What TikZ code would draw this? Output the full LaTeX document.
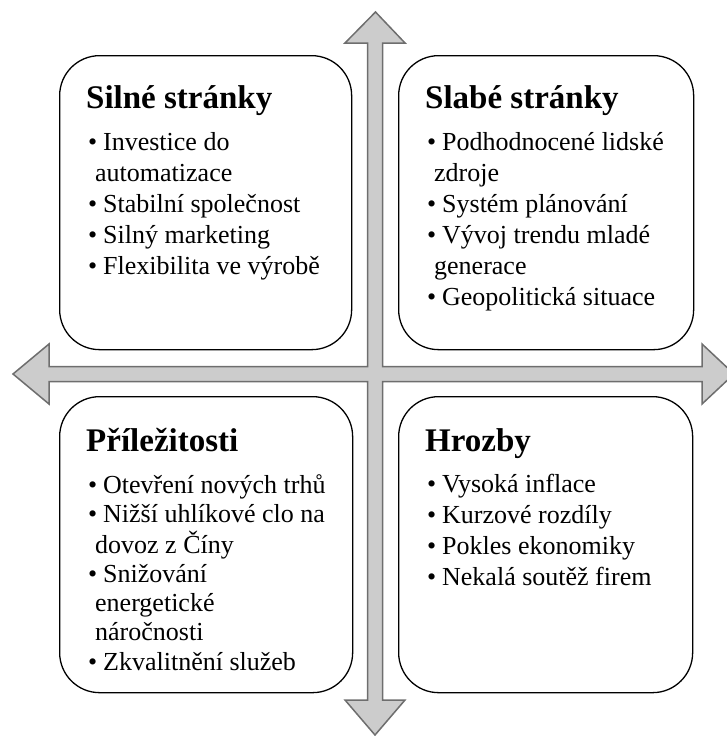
\documentclass[tikz,border=0pt]{standalone}
\usepackage{fontspec}
\setmainfont{Liberation Serif}
\newcommand{\itm}[1]{\makebox[15pt][l]{•}#1}
\newcommand{\cnt}[1]{\hspace*{7pt}#1}
\begin{document}
\begin{tikzpicture}[x=1pt,y=-1pt,
  quad/.style={draw=black, line width=1.3pt, rounded corners=40pt, fill=white, anchor=north west, inner sep=0pt},
  ttl/.style={anchor=base west, inner sep=0pt, font=\fontsize{33}{36}\selectfont\bfseries},
  lst/.style={anchor=base west, inner sep=0pt, align=left}]
\useasboundingbox (0,0) rectangle (726,736);
% cross arrows
\filldraw[fill=black!20, draw=black!57, line width=1.5pt, line join=miter]
  (375.5,12) -- (405,43) -- (382.5,43) -- (382.5,366.5) -- (702,366.5) -- (702,344)
  -- (734,374) -- (702,404) -- (702,381.5) -- (382.5,381.5) -- (382.5,700) -- (405,700)
  -- (375,735) -- (345,700) -- (367.5,700) -- (367.5,381.5) -- (49,381.5) -- (49,404)
  -- (13,374) -- (49,344) -- (49,366.5) -- (367.5,366.5) -- (367.5,43) -- (345,43) -- cycle;
% boxes
\node[quad, minimum width=292pt, minimum height=294pt] (s) at (59,55) {};
\node[quad, minimum width=295pt, minimum height=294pt] (w) at (398,55) {};
\node[quad, minimum width=293pt, minimum height=296pt] (o) at (59,396) {};
\node[quad, minimum width=294pt, minimum height=296pt] (t) at (398,396) {};
% titles
\node[ttl] (st) at (86,108) {Silné stránky};
\node[ttl] (wt) at (425,108) {Slabé stránky};
\node[ttl] (ot) at (86,451) {Příležitosti};
\node[ttl] (tt) at (425,451) {Hrozby};
% lists
\node[lst] (sl) at (88,150) {\fontsize{26}{31}\selectfont
  \begin{tabular}[t]{@{}l@{}}
  \itm{Investice do}\\
  \cnt{automatizace}\\
  \itm{Stabilní společnost}\\
  \itm{Silný marketing}\\
  \itm{Flexibilita ve výrobě}
  \end{tabular}};
\node[lst] (wl) at (427,150) {\fontsize{26}{31}\selectfont
  \begin{tabular}[t]{@{}l@{}}
  \itm{Podhodnocené lidské}\\
  \cnt{zdroje}\\
  \itm{Systém plánování}\\
  \itm{Vývoj trendu mladé}\\
  \cnt{generace}\\
  \itm{Geopolitická situace}
  \end{tabular}};
\node[lst] (ol) at (88,493) {\fontsize{26}{29.2}\selectfont
  \begin{tabular}[t]{@{}l@{}}
  \itm{Otevření nových trhů}\\
  \itm{Nižší uhlíkové clo na}\\
  \cnt{dovoz z Číny}\\
  \itm{Snižování}\\
  \cnt{energetické}\\
  \cnt{náročnosti}\\
  \itm{Zkvalitnění služeb}
  \end{tabular}};
\node[lst] (tl) at (427,492) {\fontsize{26}{31}\selectfont
  \begin{tabular}[t]{@{}l@{}}
  \itm{Vysoká inflace}\\
  \itm{Kurzové rozdíly}\\
  \itm{Pokles ekonomiky}\\
  \itm{Nekalá soutěž firem}
  \end{tabular}};
\end{tikzpicture}
\end{document}
